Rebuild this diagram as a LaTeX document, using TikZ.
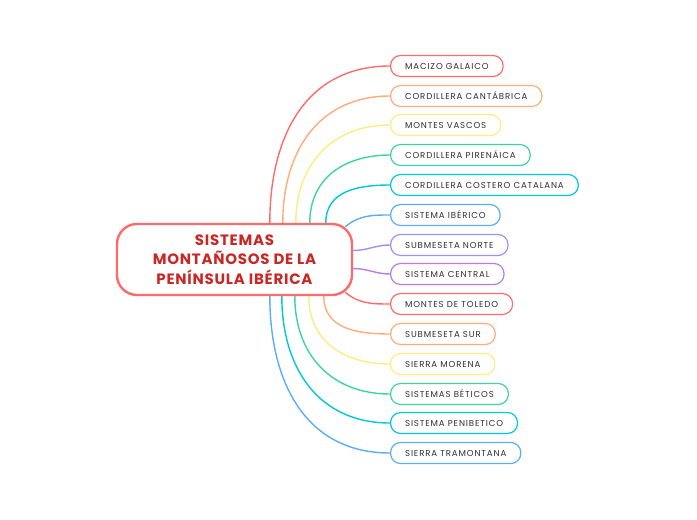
\documentclass[tikz,border=0pt]{standalone}
\usepackage{fontspec}
\setmainfont{Poppins}
\usepackage{tikz}
\usetikzlibrary{calc,backgrounds}
\definecolor{MapRojo}{RGB}{255,107,107}
\definecolor{MapNaranja}{RGB}{255,172,122}
\definecolor{MapAmarillo}{RGB}{255,236,128}
\definecolor{MapVerde}{RGB}{62,212,160}
\definecolor{MapCian}{RGB}{0,200,212}
\definecolor{MapAzul}{RGB}{92,172,246}
\definecolor{MapLila}{RGB}{160,142,250}
\definecolor{MapMorado}{RGB}{186,122,232}
\definecolor{TextoRojo}{RGB}{200,40,38}
\definecolor{TextoGris}{RGB}{48,48,52}

\begin{document}
\begin{tikzpicture}[x=1pt, y=-1pt,
    rama/.style={line width=1.4pt},
    sistema/.style={draw, line width=1.2pt, rounded corners=10pt, fill=white,
        anchor=west, minimum height=21pt, inner xsep=14.5pt, inner ysep=0pt,
        font=\fontsize{8.6}{10}\selectfont\addfontfeatures{LetterSpace=10}, text=TextoGris}]
    \useasboundingbox (0,0) rectangle (697,520);

    \node[draw=MapRojo, line width=2.4pt, rounded corners=20pt, fill=white,
        minimum width=235pt, minimum height=71pt, align=center, text=TextoRojo,
        font=\fontsize{15}{19.5}\selectfont\bfseries\addfontfeatures{LetterSpace=5}]
        (centro) at (234.5,259.5) {SISTEMAS\\MONTAÑOSOS DE LA\\PENÍNSULA IBÉRICA};

    % ramas
    \node[sistema, draw=MapRojo]     (s1)  at (390,66)  {MACIZO GALAICO};
    \node[sistema, draw=MapNaranja]  (s2)  at (390,96)  {CORDILLERA CANTÁBRICA};
    \node[sistema, draw=MapAmarillo] (s3)  at (390,125) {MONTES VASCOS};
    \node[sistema, draw=MapVerde]    (s4)  at (390,155) {CORDILLERA PIRENÁICA};
    \node[sistema, draw=MapCian]     (s5)  at (390,185) {CORDILLERA COSTERO CATALANA};
    \node[sistema, draw=MapAzul]     (s6)  at (390,215) {SISTEMA IBÉRICO};
    \node[sistema, draw=MapLila]     (s7)  at (390,245) {SUBMESETA NORTE};
    \node[sistema, draw=MapMorado]   (s8)  at (390,274) {SISTEMA CENTRAL};
    \node[sistema, draw=MapRojo]     (s9)  at (390,304) {MONTES DE TOLEDO};
    \node[sistema, draw=MapNaranja]  (s10) at (390,334) {SUBMESETA SUR};
    \node[sistema, draw=MapAmarillo] (s11) at (390,364) {SIERRA MORENA};
    \node[sistema, draw=MapVerde]    (s12) at (390,394) {SISTEMAS BÉTICOS};
    \node[sistema, draw=MapCian]     (s13) at (390,423) {SISTEMA PENIBETICO};
    \node[sistema, draw=MapAzul]     (s14) at (390,453) {SIERRA TRAMONTANA};

    \begin{pgfonlayer}{background}
    % conectores de arriba
    \foreach \n/\dx/\col in {1/154/MapRojo, 2/167/MapNaranja, 3/180/MapAmarillo,
        4/194/MapVerde, 5/210/MapCian}
        \draw[rama,\col] ($(centro.north west)+(\dx,0)$) to[out=90,in=180,looseness=1.1] (s\n.west);
    % conectores de abajo
    \foreach \n/\dx/\col in {10/208/MapNaranja, 11/193/MapAmarillo, 12/179/MapVerde,
        13/166/MapCian, 14/154/MapAzul}
        \draw[rama,\col] ($(centro.south west)+(\dx,0)$) to[out=-90,in=180,looseness=1.1] (s\n.west);
    % conectores laterales
    \draw[rama,MapAzul] ($(centro.north east)+(-8,4)$) to[out=40,in=180] (s6.west);
    \draw[rama,MapLila] ($(centro.east)+(0,-9)$) to[out=0,in=180] (s7.west);
    \draw[rama,MapMorado] ($(centro.east)+(0,9)$) to[out=0,in=180] (s8.west);
    \draw[rama,MapRojo] ($(centro.south east)+(-8,-4)$) to[out=-40,in=180] (s9.west);
    \end{pgfonlayer}
\end{tikzpicture}
\end{document}
